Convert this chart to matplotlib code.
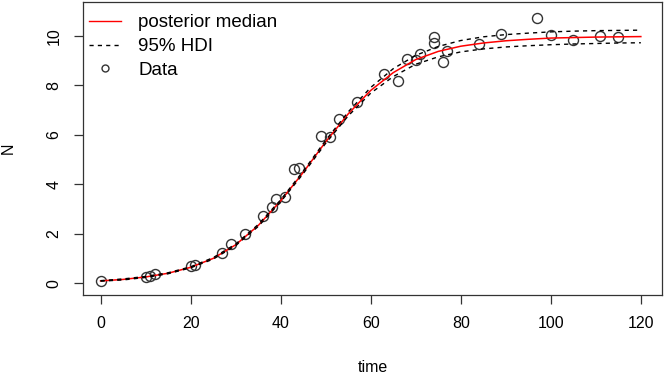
import matplotlib
matplotlib.use('Agg')
import matplotlib.pyplot as plt
from matplotlib.lines import Line2D

plt.rcParams['font.family'] = ['Liberation Sans', 'DejaVu Sans']

# наблюдения
time_obs = [0, 10, 11, 12, 20, 21, 27, 29, 32, 36, 38, 39, 41, 43, 44, 49, 51, 53, 57,
            63, 66, 68, 70, 71, 74, 74, 76, 77, 84, 89, 97, 100, 105, 111, 115]
n_obs = [0.09, 0.26, 0.28, 0.36, 0.69, 0.73, 1.20, 1.58, 1.98, 2.71, 3.09, 3.39, 3.49, 4.62, 4.67,
         5.96, 5.90, 6.65, 7.34, 8.46, 8.18, 9.06, 9.03, 9.27, 9.97, 9.74, 8.94, 9.40, 9.69,
         10.08, 10.74, 10.03, 9.84, 9.99, 9.97]

# апостериорная медиана и 95% HDI
time_grid = [0, 5, 10, 15, 20, 25, 30, 35, 40, 45, 50, 55, 60,
             65, 70, 75, 80, 85, 90, 95, 100, 105, 110, 115, 120]
n_median = [0.09, 0.15, 0.25, 0.40, 0.64, 1.00, 1.55, 2.33, 3.33, 4.48, 5.72, 6.85, 7.80,
            8.52, 9.05, 9.38, 9.59, 9.72, 9.81, 9.87, 9.92, 9.94, 9.96, 9.97, 9.98]
n_upper = [0.10, 0.17, 0.27, 0.42, 0.66, 1.03, 1.58, 2.37, 3.37, 4.53, 5.78, 6.93, 7.92,
           8.68, 9.22, 9.58, 9.82, 9.97, 10.06, 10.12, 10.17, 10.20, 10.22, 10.23, 10.24]
n_lower = [0.08, 0.13, 0.23, 0.38, 0.62, 0.97, 1.52, 2.29, 3.29, 4.43, 5.66, 6.77, 7.69,
           8.36, 8.86, 9.16, 9.36, 9.48, 9.56, 9.61, 9.65, 9.68, 9.70, 9.72, 9.73]

fig = plt.figure(figsize=(6.64, 3.79), dpi=100)
ax = fig.add_axes([83 / 664, 1 - 294.5 / 379, (662 - 83) / 664, (294.5 - 1.5) / 379])

ax.plot(time_obs, n_obs, 'o', mfc='none', mec='#333333', mew=1.0, ms=7.2)
ax.plot(time_grid, n_median, color='red', lw=1.1)
ax.plot(time_grid, n_upper, color='black', lw=1.0, dashes=(3, 3))
ax.plot(time_grid, n_lower, color='black', lw=1.0, dashes=(3, 3))

ax.set_xlim(-3.9, 124.7)
ax.set_ylim(-0.46, 11.40)
ax.set_xticks(range(0, 121, 20))
ax.set_yticks(range(0, 11, 2))
ax.tick_params(direction='out', length=6.5, width=0.9, labelsize=11.5, color='#333333')
ax.tick_params(axis='x', pad=9)
ax.tick_params(axis='y', pad=9)
for lab in ax.get_yticklabels():
    lab.set_rotation(90)
    lab.set_va('center')
for s in ax.spines.values():
    s.set_linewidth(0.9)
    s.set_color('#333333')

ax.set_xlabel('time', fontsize=11.5, labelpad=21)
ax.set_ylabel('N', fontsize=11.5, labelpad=22)

handles = [Line2D([], [], color='red', lw=1.0),
           Line2D([], [], color='black', lw=1.0, dashes=(3, 3)),
           Line2D([], [], ls='none', marker='o', mfc='none', mec='#333333', mew=1.0, ms=5)]
ax.legend(handles, ['posterior median', '95% HDI', 'Data'], loc='upper left',
          frameon=False, fontsize=13.5, handlelength=1.7, handletextpad=0.95,
          labelspacing=0.36, borderaxespad=0.0, borderpad=0.3,
          bbox_to_anchor=(0.0, 1 - 7 / 293))

fig.savefig('out.png', dpi=100)
